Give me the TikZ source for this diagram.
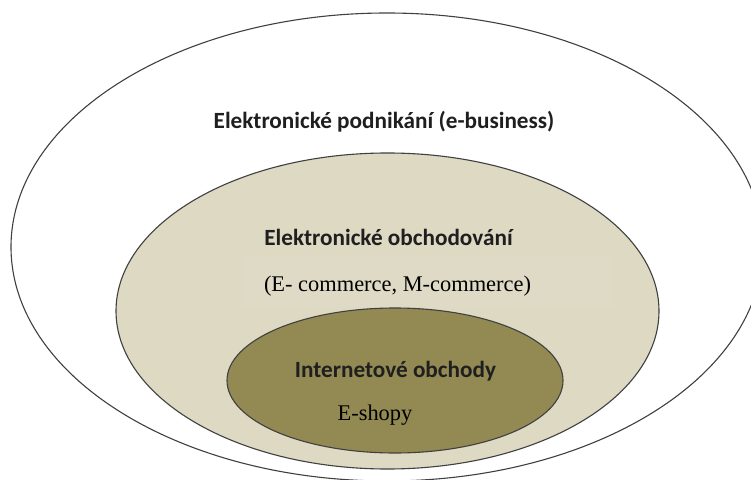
\documentclass[tikz,border=0pt]{standalone}
\usepackage{fontspec}
\setmainfont{Carlito}
\newfontfamily\serifface{Liberation Serif}
\definecolor{midfill}{HTML}{DDD9C3}
\definecolor{innerfill}{HTML}{938953}
\definecolor{boxfill}{HTML}{DEDAC6}
\begin{document}
\begin{tikzpicture}[x=1bp,y=-1bp,
  ring/.style={draw=black!75,line width=1.1bp},
  sanslabel/.style={anchor=base,inner sep=0pt,font=\bfseries\fontsize{23.3}{27}\selectfont,text=black!88},
  seriflabel/.style={anchor=base,inner sep=0pt,font=\serifface\fontsize{22.5}{26}\selectfont,text=black}]
\useasboundingbox (0,0) rectangle (751,480);
\begin{scope}
\clip (0,0) rectangle (751,480);
\draw[ring,fill=white] (387,247) ellipse [x radius=376,y radius=234];
\draw[ring,fill=midfill] (387.5,311) ellipse [x radius=271.5,y radius=158];
\fill[boxfill] (242,257) rectangle (613,307);
\draw[ring,fill=innerfill] (395,380.5) ellipse [x radius=168,y radius=72.5];
\end{scope}
\node[sanslabel] (ebus) at (384,129) {Elektronické podnikání (e-business)};
\node[sanslabel] (eobch) at (388.5,246) {Elektronické obchodování};
\node[seriflabel] (ecom) at (397.5,292) {(E- commerce, M-commerce)};
\node[sanslabel] (inet) at (395.5,377) {Internetové obchody};
\node[seriflabel] (eshop) at (375,420) {E-shopy};
\end{tikzpicture}
\end{document}
